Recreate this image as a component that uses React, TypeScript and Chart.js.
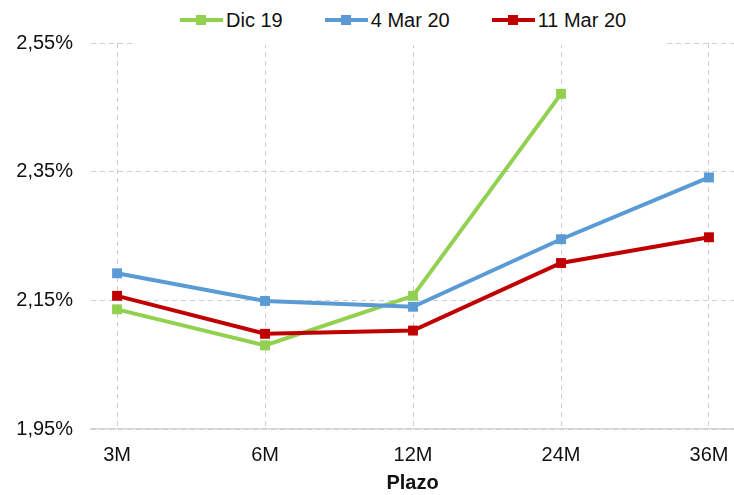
import React, { useEffect, useRef } from "react";
import { Chart, registerables } from "chart.js";

Chart.register(...registerables);

const categories = ["3M", "6M", "12M", "24M", "36M"];
const seriesNames = ["Dic 19", "4 Mar 20", "11 Mar 20"];
const dic19 = [2.136, 2.08, 2.157, 2.471];
const mar4 = [2.192, 2.149, 2.14, 2.245, 2.341];
const mar11 = [2.157, 2.098, 2.103, 2.208, 2.248];
const seriesColors = ["#92D050", "#5B9BD5", "#C00000"];
const yTicks = [1.95, 2.15, 2.35, 2.55];
const xTitle = "Plazo";

const FONT = "'Liberation Sans', Arial, sans-serif";
const TEXT = "#111111";

export default function App() {
  const ref = useRef<HTMLCanvasElement | null>(null);

  useEffect(() => {
    if (!ref.current) return;
    const all = [dic19, mar4, mar11];
    const chart = new Chart(ref.current, {
      type: "line",
      data: {
        datasets: all.map((vals, k) => ({
          label: seriesNames[k],
          data: vals.map((v, i) => ({ x: i, y: v })),
          borderColor: seriesColors[k],
          backgroundColor: seriesColors[k],
          borderWidth: 4,
          pointStyle: "rect",
          pointRadius: 7,
          pointBorderWidth: 0,
          pointBackgroundColor: seriesColors[k],
          tension: 0,
          fill: false,
          order: 3 - k,
        })),
      },
      options: {
        responsive: false,
        animation: false,
        events: [],
        layout: { autoPadding: false, padding: { top: 43, left: 0, right: 0, bottom: 0 } },
        plugins: { legend: { display: false }, tooltip: { enabled: false } },
        font: { family: FONT, size: 20 },
        scales: {
          x: {
            type: "linear",
            min: -0.176,
            max: 4.169,
            afterBuildTicks: (s: any) => {
              s.ticks = categories.map((_, i) => ({ value: i }));
            },
            afterFit: (s: any) => {
              s.height = 66;
              s.paddingLeft = 0;
              s.paddingRight = 0;
            },
            grid: {
              color: "#cfcfcf",
              lineWidth: 1,
              drawTicks: false,
            },
            border: { display: true, color: "#d4d4d4", width: 1.5, dash: [5, 4] },
            ticks: {
              padding: 14,
              color: TEXT,
              font: { family: FONT, size: 20 },
              callback: (v: any) => categories[Math.round(Number(v))] ?? "",
              maxRotation: 0,
              autoSkip: false,
            },
            title: {
              display: true,
              text: xTitle,
              color: TEXT,
              font: { family: FONT, size: 20, weight: "bold" },
              padding: { top: 4, bottom: 0 },
            },
          },
          y: {
            min: 1.95,
            max: 2.55,
            afterBuildTicks: (s: any) => {
              s.ticks = yTicks.map((v) => ({ value: v }));
            },
            afterFit: (s: any) => {
              s.width = 91;
            },
            grid: { color: "#cfcfcf", lineWidth: 1, drawTicks: false },
            border: { display: false, dash: [5, 4] },
            ticks: {
              padding: 18,
              color: TEXT,
              font: { family: FONT, size: 20 },
              callback: (v: any) => Number(v).toFixed(2).replace(".", ",") + "%",
            },
          },
        },
      },
    });
    return () => chart.destroy();
  }, []);

  return (
    <div style={{ position: "absolute", left: 0, top: 0, width: 734, height: 495, background: "#fff" }}>
      <canvas ref={ref} width={734} height={495} style={{ display: "block" }} />
      <div
        style={{
          position: "absolute",
          left: 133,
          top: 0,
          width: 534,
          height: 45,
          background: "#fff",
        }}
      >
        <div
          style={{
            position: "absolute",
            left: 47,
            top: 8,
            display: "flex",
            alignItems: "center",
            gap: 42,
            fontFamily: FONT,
            fontSize: 20,
            color: TEXT,
            whiteSpace: "nowrap",
            lineHeight: "24px",
          }}
        >
          {seriesNames.map((name, k) => (
            <div key={name} style={{ display: "flex", alignItems: "center", gap: 3 }}>
              <div style={{ position: "relative", width: 43, height: 12 }}>
                <div
                  style={{
                    position: "absolute",
                    left: 0,
                    right: 0,
                    top: 4,
                    height: 4,
                    background: seriesColors[k],
                  }}
                />
                <div
                  style={{
                    position: "absolute",
                    left: 16,
                    top: 1,
                    width: 10,
                    height: 10,
                    background: seriesColors[k],
                  }}
                />
              </div>
              <span>{name}</span>
            </div>
          ))}
        </div>
      </div>
    </div>
  );
}
